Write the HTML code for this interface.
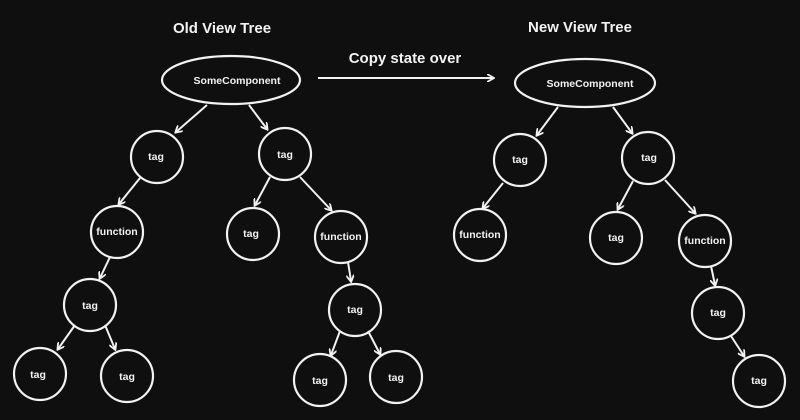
<!DOCTYPE html>
<html><head><style>
html,body{margin:0;padding:0;background:#0f0f0f;}
svg{display:block}
text{font-family:"Liberation Sans",sans-serif;fill:#f2f2f2;text-anchor:middle;font-weight:bold}
</style></head><body>
<svg width="800" height="420" viewBox="0 0 800 420">
<defs><marker id="a" markerWidth="8" markerHeight="8" refX="6" refY="4" orient="auto" markerUnits="userSpaceOnUse"><path d="M0,0 L7,4 L0,8" fill="none" stroke="#f2f2f2" stroke-width="1.8"/></marker></defs>
<rect width="800" height="420" fill="#0f0f0f"/>
<g fill="none" stroke="#f2f2f2" stroke-width="2.2">
<ellipse cx="231" cy="80" rx="69" ry="24"/>
<circle cx="157" cy="157" r="26"/><circle cx="285" cy="154" r="26"/>
<circle cx="117" cy="232" r="26"/><circle cx="253" cy="234" r="26"/><circle cx="341" cy="237" r="26"/>
<circle cx="90" cy="305" r="26"/><circle cx="355" cy="310" r="26"/>
<circle cx="40" cy="374" r="26"/><circle cx="127" cy="376" r="26"/><circle cx="320" cy="380" r="26"/><circle cx="396" cy="377" r="26"/>
<ellipse cx="585" cy="83" rx="70" ry="24"/>
<circle cx="520" cy="160" r="26"/><circle cx="648" cy="158" r="26"/>
<circle cx="480" cy="235" r="26"/><circle cx="616" cy="238" r="26"/><circle cx="705" cy="241" r="26"/>
<circle cx="718" cy="313" r="26"/><circle cx="759" cy="381" r="26"/>
</g>
<g stroke="#f2f2f2" stroke-width="2" marker-end="url(#a)">
<line x1="318" y1="78" x2="493" y2="78"/>
<line x1="207" y1="105" x2="176" y2="132"/><line x1="249" y1="105" x2="267" y2="129"/>
<line x1="140" y1="178" x2="119" y2="204"/>
<line x1="270" y1="177" x2="255" y2="205"/><line x1="300" y1="177" x2="331" y2="210"/>
<line x1="110" y1="257" x2="100" y2="278"/>
<line x1="348" y1="262" x2="351" y2="281"/>
<line x1="75" y1="325" x2="58" y2="349"/><line x1="105" y1="325" x2="115" y2="349"/>
<line x1="340" y1="331" x2="331" y2="355"/><line x1="368" y1="331" x2="380" y2="354"/>
<line x1="558" y1="107" x2="537" y2="135"/><line x1="613" y1="107" x2="632" y2="133"/>
<line x1="503" y1="183" x2="483" y2="208"/>
<line x1="633" y1="181" x2="618" y2="209"/><line x1="665" y1="180" x2="695" y2="213"/>
<line x1="711" y1="266" x2="715" y2="285"/>
<line x1="731" y1="336" x2="744" y2="356"/>
</g>
<text x="222" y="33" font-size="15">Old View Tree</text>
<text x="580" y="32" font-size="15">New View Tree</text>
<text x="405" y="63" font-size="15">Copy state over</text>
<g font-size="10.5">
<text x="237" y="84">SomeComponent</text>
<text x="156" y="160">tag</text><text x="285" y="158">tag</text>
<text x="117" y="235">function</text><text x="251" y="237">tag</text><text x="341" y="240">function</text>
<text x="90" y="309">tag</text><text x="355" y="313">tag</text>
<text x="38" y="378">tag</text><text x="127" y="380">tag</text><text x="320" y="384">tag</text><text x="396" y="381">tag</text>
<text x="590" y="87">SomeComponent</text>
<text x="520" y="163">tag</text><text x="649" y="161">tag</text>
<text x="480" y="238">function</text><text x="616" y="241">tag</text><text x="705" y="244">function</text>
<text x="718" y="316">tag</text><text x="759" y="384">tag</text>
</g>
</svg>
</body></html>
